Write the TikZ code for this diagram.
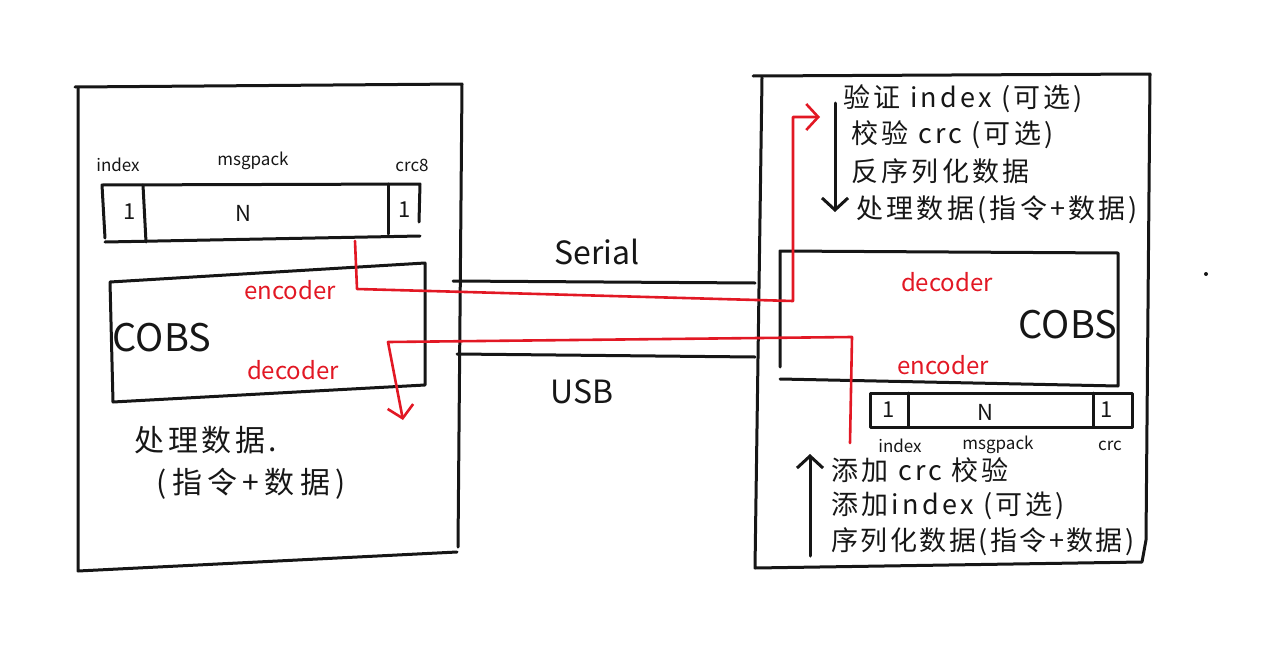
\documentclass[tikz,border=0pt]{standalone}
\usepackage{fontspec}
\setmainfont{Noto Sans CJK SC}
\usetikzlibrary{positioning,arrows.meta}
\definecolor{inkblack}{RGB}{22,22,22}
\definecolor{handred}{RGB}{226,24,36}

\begin{document}
\begin{tikzpicture}[x=1pt,y=-1pt,line width=3pt,line cap=round,line join=round,
  draw=inkblack,text=inkblack,>={Straight Barb[length=12pt,width=26pt]},
  every node/.style={inner sep=0pt},
  route/.style={draw=handred,line width=2.6pt},
  tag/.style={text=handred,font=\fontsize{24}{24}\selectfont},
  note/.style={anchor=west,font=\fontsize{27}{27}\selectfont\addfontfeature{LetterSpace=12}},
  cell/.style={font=\fontsize{22}{22}\selectfont},
  field/.style={font=\fontsize{17}{17}\selectfont},
  big/.style={font=\fontsize{38}{38}\selectfont},
  link/.style={font=\fontsize{32}{32}\selectfont}]
  \useasboundingbox (0,0) rectangle (1280,645);

  % left side
  \draw (75,87) -- (462,84) -- (458,547);
  \draw (457,552) -- (78,571) -- (78,88);
  \node[field] (lidx) at (118,165) {index};
  \node[field] (lmsg) at (253,161) {msgpack};
  \node[field] (lcrc) at (412,165) {crc8};
  \draw (105,238) -- (102,185) -- (420,184) -- (419,222);
  \draw (105,242) -- (420,236);
  \draw (143,185) -- (146,242);
  \draw (388,184) -- (388,234);
  \node[cell] (l1) at (130,212) {1};
  \node[cell] (lN) at (243,213) {N};
  \node[cell] (l2) at (405,210) {1};
  \draw (110,282) -- (425,263) -- (425,385) -- (113,402) -- cycle;
  \node[big] (lcobs) at (162,338) {COBS};
  \node[tag] (lenc) at (290,290) {encoder};
  \node[tag] (ldec) at (293,370) {decoder};
  \node[note,font=\fontsize{30}{30}\selectfont\addfontfeature{LetterSpace=12}] (lnote1) at (133,440) {处理数据.};
  \node[note,font=\fontsize{30}{30}\selectfont\addfontfeature{LetterSpace=18}] (lnote2) at (155,484) {(指令+数据)};

  % link
  \draw (453,281) -- (755,283);
  \draw (457,354) -- (755,357);
  \node[link] (serial) at (597,252) {Serial};
  \node[link] (usb) at (582,392) {USB};

  % right side
  \draw (753,76) -- (1150,74) -- (1146,540) -- (1142,562) -- (755,568) -- (762,78);
  \draw (780,367) -- (780,251) -- (1118,253) -- (1118,386) -- (780,379);
  \node[tag] (rdec) at (947,282) {decoder};
  \node[big] (rcobs) at (1068,325) {COBS};
  \node[tag] (renc) at (943,365) {encoder};
  \draw (870,393) rectangle (1132,427);
  \draw (908,393) -- (908,427);
  \draw (1093,393) -- (1093,427);
  \node[cell] (r1) at (889,410) {1};
  \node[cell] (rN) at (985,412) {N};
  \node[cell] (r2) at (1107,410) {1};
  \node[field] (ridx) at (900,446) {index};
  \node[field] (rmsg) at (998,445) {msgpack};
  \node[field] (rcrc) at (1110,446) {crc};

  \node[note] (ver) at (842,99) {验证 index (可选)};
  \node[note] (chk) at (850,135) {校验 crc (可选)};
  \node[note] (des) at (850,171) {反序列化数据};
  \node[note] (use) at (855,210) {处理数据(指令+数据)};
  \coordinate (dtop) at (835,103);
  \coordinate (dbot) at (835,212);
  \draw[->] (dtop) -- (dbot);

  \node[note] (add1) at (830,470) {添加 crc 校验};
  \node[note] (add2) at (830,506) {添加index (可选)};
  \node[note,font=\fontsize{27}{27}\selectfont\addfontfeature{LetterSpace=9}] (ser) at (830,542) {序列化数据(指令+数据)};
  \coordinate (ubot) at (810,556);
  \coordinate (utop) at (810,454);
  \draw[->] (ubot) -- (utop);

  \fill[inkblack] (1206,274) circle (2pt);

  % red routes
  \coordinate (s0) at (355,241);
  \coordinate (s1) at (357,289);
  \coordinate (s2) at (793,301);
  \coordinate (s3) at (793,117);
  \coordinate (s4) at (820,117);
  \draw[route,->] (s0) -- (s1) -- (s2) -- (s3) -- (s4);
  \coordinate (u0) at (850,443);
  \coordinate (u1) at (852,337);
  \coordinate (u2) at (388,342);
  \coordinate (u3) at (403,420);
  \draw[route,->] (u0) -- (u1) -- (u2) -- (u3);
\end{tikzpicture}
\end{document}
